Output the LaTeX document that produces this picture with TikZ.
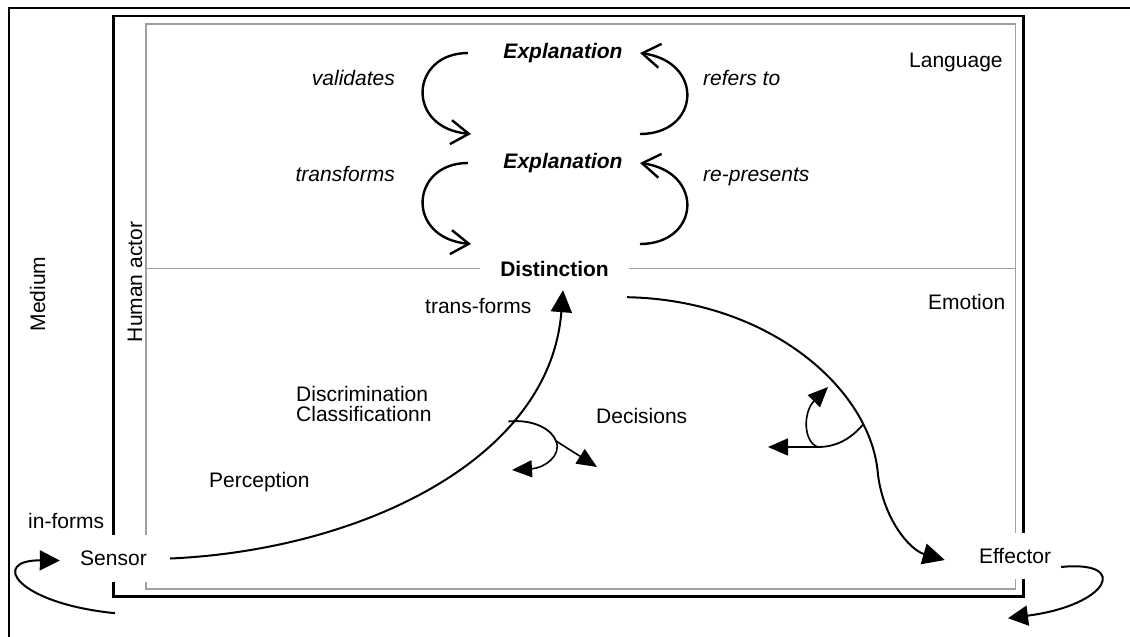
\documentclass[tikz,border=0pt]{standalone}
\usepackage{fontspec}
\setmainfont{Liberation Sans}
\usetikzlibrary{arrows.meta,calc}
\definecolor{rulegray}{RGB}{160,160,160}
\newcommand\labelsize{\fontsize{21}{24}\selectfont}
\tikzset{
  lbl/.style={inner sep=0pt, font=\labelsize},
  lblit/.style={inner sep=0pt, font=\labelsize\itshape},
  lblbi/.style={inner sep=0pt, font=\labelsize\bfseries\itshape},
  lblbf/.style={inner sep=0pt, font=\labelsize\bfseries},
  panel/.style={fill=white},
  mainarc/.style={line width=2pt, -{Triangle[length=22pt,width=21pt]}},
  fork/.style={line width=1.8pt},
  forkarrow/.style={line width=1.6pt, -{Triangle[length=20pt,width=17pt]}},
  feedback/.style={line width=2pt, -{Triangle[length=20pt,width=20pt]}},
  barbarc/.style={line width=2.4pt, -{Straight Barb[length=18pt,width=24pt]}},
  divider/.style={rulegray, line width=1.3pt}
}
\begin{document}
\begin{tikzpicture}[x=1pt,y=-1pt]
\useasboundingbox (0,0) rectangle (1130,637);
\clip (0,0) rectangle (1130,637);

% frames: medium, human actor, inner field
\draw[line width=1.6pt] (9,8) rectangle (1150,660);
\draw[line width=2.2pt] (113.5,16) rectangle (1023.5,596.5);
\draw[divider] (146,24) rectangle (1015.5,589);
\draw[divider] (146,268.5) -- (1015.5,268.5);

% labels
\node[lbl, rotate=90, anchor=base] (medium) at (45,294) {Medium};
\node[lbl, rotate=90, anchor=base] (human) at (142,282) {Human actor};

\node[lblbi, anchor=base] (expl1) at (563,58) {Explanation};
\node[lblbi, anchor=base] (expl2) at (563,168) {Explanation};
\node[lblbf, panel, minimum width=149pt, minimum height=43pt] (dist) at (554.5,268.5) {Distinction};

\node[lblit, anchor=base east] (validates) at (395,85) {validates};
\node[lblit, anchor=base east] (transforms) at (395,181) {transforms};
\node[lblit, anchor=base west] (refers) at (703,85) {refers to};
\node[lblit, anchor=base west] (represents) at (703,181) {re-presents};
\node[lbl, anchor=base west] (language) at (909,67) {Language};
\node[lbl, anchor=base west] (emotion) at (928,309) {Emotion};
\node[lbl, anchor=base west] (transf) at (425,313) {trans-forms};
\node[lbl, anchor=base west] (discr) at (296,401) {Discrimination};
\node[lbl, anchor=base west] (classif) at (296,421) {Classificationn};
\node[lbl, anchor=base west] (decisions) at (596,423) {Decisions};
\node[lbl, anchor=base west] (perception) at (209,487) {Perception};
\node[lbl, anchor=base west] (informs) at (28,528) {in-forms};

\node[lbl, panel, minimum width=103pt, minimum height=47pt] (sensor) at (113.5,558.5) {Sensor};
\node[lbl, panel, minimum width=92pt, minimum height=46pt] (eff) at (1015,556) {Effector};

% language loops
\coordinate (v1a) at (468,53);  \coordinate (v1b) at (471,134);
\coordinate (r1a) at (640,134); \coordinate (r1b) at (640,53);
\coordinate (v2a) at (468,163); \coordinate (v2b) at (471,244);
\coordinate (r2a) at (640,244); \coordinate (r2b) at (640,163);
\draw[barbarc] (v1a) .. controls (410,53) and (405,128) .. (v1b);
\draw[barbarc] (r1a) .. controls (700,134) and (705,62) .. (r1b);
\draw[barbarc] (v2a) .. controls (410,163) and (405,238) .. (v2b);
\draw[barbarc] (r2a) .. controls (700,244) and (705,172) .. (r2b);

% sensor -> distinction -> effector
\draw[mainarc] ($(sensor.east)+(5,0)$) .. controls (360,550) and (550,460) ..
  ($(dist.south)+(8.5,0)$) coordinate[pos=0.7] (br1);
\draw[mainarc] ($(dist.south east)+(-2,7)$) .. controls (770,300) and (872,390) ..
  (878,475) coordinate[pos=0.8] (br2)
  .. controls (884,520) and (910,550) .. ($(eff.west)+(-24,4)$);

% decision forks
\coordinate (k1) at (556,441);
\coordinate (d1) at (597,467);
\coordinate (d2) at (512,470);
\draw[fork] (br1) .. controls (535,419) and (552,430) .. (k1);
\draw[forkarrow] (k1) -- (d1);
\draw[forkarrow] (k1) .. controls (562,455) and (545,468) .. (d2);

\coordinate (k2) at (818,447);
\coordinate (d3) at (768,447);
\coordinate (d4) at (828,387);
\draw[fork] (br2) .. controls (850,440) and (835,447) .. (k2);
\draw[forkarrow] (k2) -- (d3);
\draw[forkarrow] (k2) .. controls (803,442) and (803,412) .. (d4);

% feedback through the medium
\draw[feedback] ($(sensor.south)+(1.5,31)$) .. controls (15,603) and (-10,560) .. ($(sensor.west)+(-2,2)$);
\draw[feedback] ($(eff.east)+(0,11)$) .. controls (1130,560) and (1110,605) .. ($(eff.south)+(-7,39)$);
\end{tikzpicture}
\end{document}
